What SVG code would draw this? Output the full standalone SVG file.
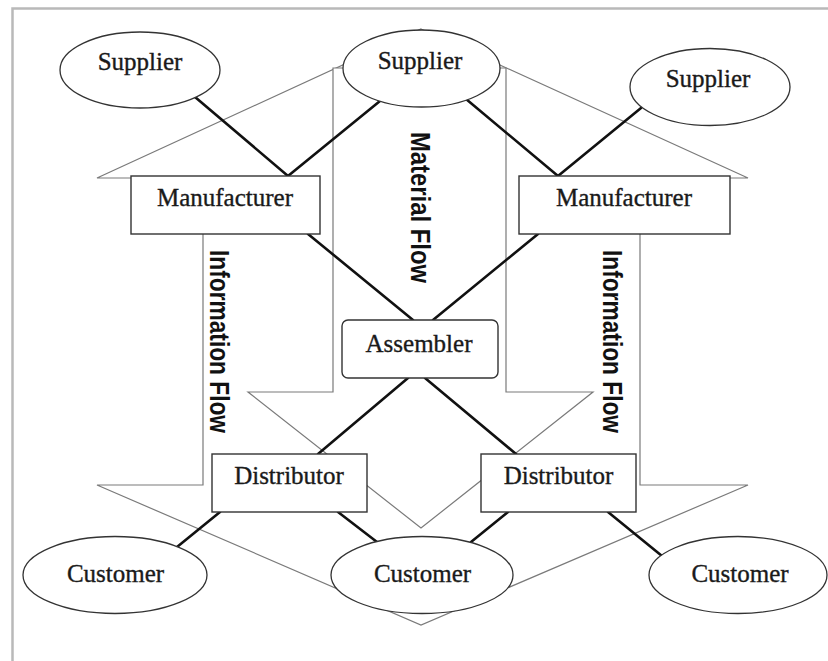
<svg xmlns="http://www.w3.org/2000/svg" width="828" height="661" viewBox="0 0 828 661">
<defs>
<style>
.frame{fill:none;stroke:#b9b9b9;stroke-width:2.5}
.flow{fill:#fff;stroke:#7a7a7a;stroke-width:1.2}
.conn{stroke:#111;stroke-width:2.6;fill:none;stroke-linecap:round}
.ell{fill:#fff;stroke:#333;stroke-width:1.3}
.box{fill:#fff;stroke:#333;stroke-width:1.4}
.lbl{font-family:"Liberation Serif","Times New Roman",serif;font-size:25px;fill:#1a1a1a;stroke:#1a1a1a;stroke-width:0.35;text-anchor:middle}
.flowtxt{font-family:"Liberation Sans Narrow","Liberation Sans",Arial,sans-serif;font-size:27px;font-weight:bold;fill:#111}
</style>
</defs>
<rect width="828" height="661" fill="#fff"/>
<path class="frame" d="M12.5,661 L12.5,8.5 L828,8.5"/>
<g id="information-flow">
<polygon class="flow" points="421,29 748,178 640,178 640,485 748,485 421,625 97,485 203,485 203,178 97,178"/>
<text class="flowtxt" transform="translate(210,250) rotate(90)" textLength="183" lengthAdjust="spacingAndGlyphs">Information Flow</text>
<text class="flowtxt" transform="translate(603,250) rotate(90)" textLength="183" lengthAdjust="spacingAndGlyphs">Information Flow</text>
</g>
<g id="material-flow">
<polygon class="flow" points="333,68 506,68 506,392 593,392 421,528 248,392 333,392"/>
<text class="flowtxt" transform="translate(411,132) rotate(90)" textLength="151" lengthAdjust="spacingAndGlyphs">Material Flow</text>
</g>
<g id="connectors">
<line class="conn" x1="195" y1="97" x2="288" y2="176"/>
<line class="conn" x1="380" y1="101" x2="288" y2="176"/>
<line class="conn" x1="466" y1="99" x2="558" y2="176"/>
<line class="conn" x1="641" y1="108" x2="558" y2="176"/>
<line class="conn" x1="308" y1="234" x2="413" y2="320"/>
<line class="conn" x1="538" y1="234" x2="433" y2="320"/>
<line class="conn" x1="408" y1="378" x2="318" y2="454"/>
<line class="conn" x1="425" y1="378" x2="516" y2="454"/>
<line class="conn" x1="220" y1="512" x2="177" y2="547"/>
<line class="conn" x1="338" y1="512" x2="377" y2="542"/>
<line class="conn" x1="508" y1="512" x2="471" y2="542"/>
<line class="conn" x1="608" y1="512" x2="662" y2="556"/>
</g>
<g id="supplier-left">
<ellipse class="ell" cx="140" cy="70" rx="80" ry="38"/>
<text class="lbl" x="140" y="70">Supplier</text>
</g>
<g id="supplier-middle">
<ellipse class="ell" cx="421.5" cy="68.5" rx="78.5" ry="38.5"/>
<text class="lbl" x="420" y="69">Supplier</text>
</g>
<g id="supplier-right">
<ellipse class="ell" cx="710" cy="87" rx="80" ry="38.5"/>
<text class="lbl" x="708" y="87">Supplier</text>
</g>
<g id="manufacturer-left">
<rect class="box" x="131" y="176" width="189" height="58"/>
<text class="lbl" x="225" y="206">Manufacturer</text>
</g>
<g id="manufacturer-right">
<rect class="box" x="519" y="176" width="211" height="58"/>
<text class="lbl" x="624" y="206">Manufacturer</text>
</g>
<g id="assembler">
<rect class="box" x="342" y="320" width="156" height="58" rx="6"/>
<text class="lbl" x="419" y="352">Assembler</text>
</g>
<g id="distributor-left">
<rect class="box" x="212" y="454" width="155" height="58"/>
<text class="lbl" x="289" y="484">Distributor</text>
</g>
<g id="distributor-right">
<rect class="box" x="481" y="454" width="155" height="58"/>
<text class="lbl" x="558.5" y="484">Distributor</text>
</g>
<g id="customer-left">
<ellipse class="ell" cx="115" cy="575" rx="92" ry="38.5"/>
<text class="lbl" x="115.5" y="582">Customer</text>
</g>
<g id="customer-middle">
<ellipse class="ell" cx="422" cy="575" rx="91" ry="38.5"/>
<text class="lbl" x="422.5" y="582">Customer</text>
</g>
<g id="customer-right">
<ellipse class="ell" cx="738" cy="575" rx="89" ry="38.5"/>
<text class="lbl" x="740" y="582">Customer</text>
</g>
</svg>
